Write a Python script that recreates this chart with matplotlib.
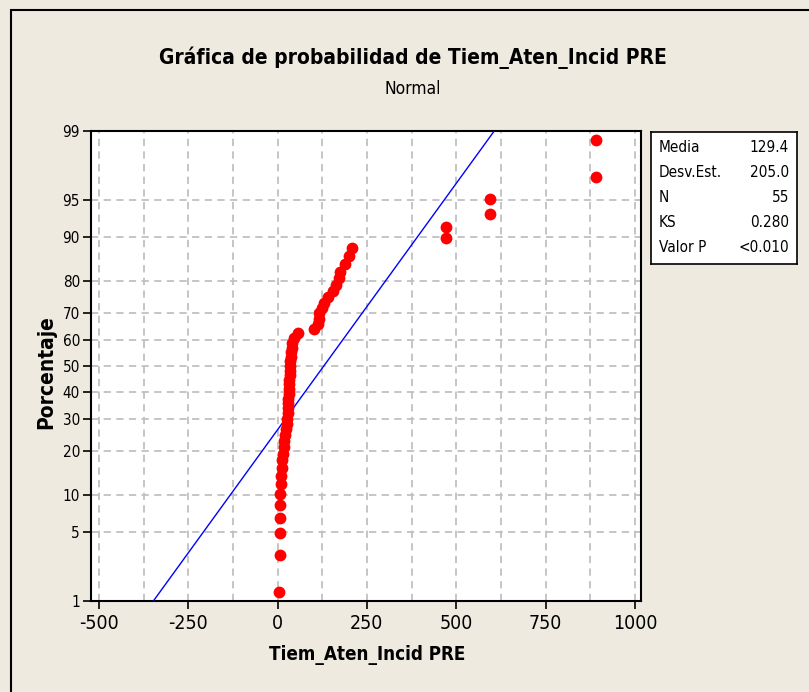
import matplotlib
matplotlib.use('Agg')
import matplotlib.pyplot as plt
import numpy as np
from statistics import NormalDist
from matplotlib.patches import Rectangle
from matplotlib.ticker import MultipleLocator

plt.rcParams['font.family'] = ['DejaVu Sans']
plt.rcParams['font.stretch'] = 'condensed'

# datos (ordenados)
tiempos = [5, 6, 6, 7, 7, 8, 9, 10, 12, 13, 15, 17, 19, 21, 24, 26, 27, 28,
           29, 30, 30, 31, 32, 32, 33, 34, 35, 35, 36, 37, 38, 40, 41, 46, 58,
           102, 112, 115, 117, 124, 130, 140, 155, 163, 172, 176, 190, 199, 208,
           472, 472, 595, 595, 890, 890]

media = 129.4
desv = 205.0
n_obs = 55
ks = 0.280
valor_p = "<0.010"

pct_ticks = [1, 5, 10, 20, 30, 40, 50, 60, 70, 80, 90, 95, 99]
x_ticks = [-500, -250, 0, 250, 500, 750, 1000]

nd = NormalDist()
x = np.sort(np.array(tiempos, dtype=float))
n = len(x)
rangos = (np.arange(1, n + 1) - 0.3) / (n + 0.4)
z = np.array([nd.inv_cdf(p) for p in rangos])

# linea ajustada
z_lin = np.linspace(nd.inv_cdf(0.01), nd.inv_cdf(0.99), 200)
x_lin = media + desv * z_lin

fondo = '#EEEAE0'
fig = plt.figure(figsize=(8.09, 6.92), dpi=100, facecolor=fondo)
ax = fig.add_axes([91 / 809, 91 / 692, 550 / 809, 470 / 692])
ax.set_facecolor('white')

ax.plot(x_lin, z_lin, color='#0000FF', lw=1.0, zorder=3)
ax.plot(x, z, 'o', color='#FF0000', markersize=8.5, markeredgewidth=0, zorder=4)

ax.set_xlim(-522, 1017)
ax.set_ylim(nd.inv_cdf(0.01), nd.inv_cdf(0.99))
ax.set_xticks(x_ticks)
ax.set_xticklabels([str(t) for t in x_ticks], fontsize=14)
ax.xaxis.set_minor_locator(MultipleLocator(125))
ax.set_yticks([nd.inv_cdf(p / 100) for p in pct_ticks])
ax.set_yticklabels([str(p) for p in pct_ticks], fontsize=11)
ax.tick_params(axis='both', which='major', direction='out', length=6, width=1.2, color='black')
ax.tick_params(axis='y', which='major', pad=2)
ax.tick_params(axis='x', which='minor', length=0)

ax.grid(True, which='both', axis='x', color='#C0C0C0', linestyle=(0, (4, 3)), lw=1.3)
ax.grid(True, which='major', axis='y', color='#C0C0C0', linestyle=(0, (4, 3)), lw=1.3)
ax.set_axisbelow(True)
for s in ax.spines.values():
    s.set_linewidth(1.5)
    s.set_color('black')

# marco exterior
fig.patches.append(Rectangle((11 / 809, -0.1), 1.2, 1 - 10 / 692 + 0.1,
                             transform=fig.transFigure, fill=False,
                             ec='black', lw=1.5))

fig.text(413 / 809, 1 - 58 / 692, 'Gráfica de probabilidad de Tiem_Aten_Incid PRE',
         ha='center', va='center', fontsize=15, fontweight='bold')
fig.text(413 / 809, 1 - 89 / 692, 'Normal', ha='center', va='center', fontsize=12.5)
fig.text(367 / 809, 1 - 655 / 692, 'Tiem_Aten_Incid PRE', ha='center', va='center',
         fontsize=13.5, fontweight='bold')
fig.text(46 / 809, 1 - 372 / 692, 'Porcentaje', ha='center', va='center',
         rotation=90, fontsize=15, fontweight='bold')

# cuadro de estadisticos
box = fig.add_axes([651 / 809, 1 - 264 / 692, 146 / 809, 132 / 692])
box.set_facecolor('white')
box.set_xticks([])
box.set_yticks([])
for s in box.spines.values():
    s.set_linewidth(1.2)
etiquetas = ['Media', 'Desv.Est.', 'N', 'KS', 'Valor P']
valores = [f'{media:.1f}', f'{desv:.1f}', str(n_obs), f'{ks:.3f}', valor_p]
for k, (et, va) in enumerate(zip(etiquetas, valores)):
    ypx = 147 + 25.2 * k
    fig.text(659 / 809, 1 - ypx / 692, et, ha='left', va='center', fontsize=11)
    fig.text(789 / 809, 1 - ypx / 692, va, ha='right', va='center', fontsize=11)

fig.savefig('out.png', dpi=100, facecolor=fondo)
